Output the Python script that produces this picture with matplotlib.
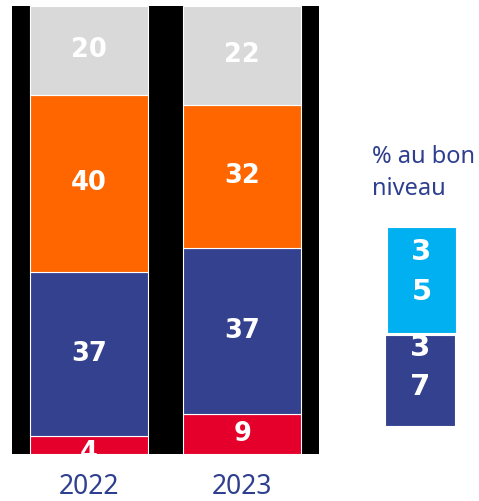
import matplotlib
matplotlib.use("Agg")
import matplotlib.pyplot as plt
from matplotlib.patches import Rectangle
import numpy as np

plt.rcParams['font.family'] = ['Noto Sans', 'DejaVu Sans']

years = ["2022", "2023"]
segment_names = ["rouge", "bleu", "orange", "gris"]
red_vals = [4, 9]
blue_vals = [37, 37]
orange_vals = [40, 32]
gray_vals = [20, 22]
side_labels = ["35", "37"]
side_title = "% au bon\nniveau"

colors = ["#E4002B", "#33418F", "#FF6600", "#D9D9D9"]
year_color = "#2F3F8F"
num_font = "DejaVu Sans"

W, H = 479, 501
fig = plt.figure(figsize=(W / 100, H / 100), dpi=100)

def fx(px):
    return px / W

def fy(py):
    return 1 - py / H

ax = fig.add_axes([fx(12), fy(454), fx(319) - fx(12), fy(6) - fy(454)])
ax.set_facecolor("black")

series = np.array([red_vals, blue_vals, orange_vals, gray_vals], dtype=float)
totals = series.sum(axis=0)
norm = series / totals * 100
x = np.arange(len(years))
bottoms = np.zeros(len(years))
for i in range(series.shape[0]):
    ax.bar(x, norm[i], width=0.766, bottom=bottoms, color=colors[i],
           edgecolor="white", linewidth=0.8, zorder=2)
    for j in range(len(years)):
        yc = bottoms[j] + norm[i][j] / 2
        if series[i][j] < 6:
            yc -= 1.7
        ax.text(x[j], yc, f"{int(series[i][j])}", ha="center", va="center",
                color="white", fontsize=18.5, fontweight="bold", zorder=3,
                family=num_font, clip_on=True)
    bottoms += norm[i]

ax.set_xlim(-0.5, 1.5)
ax.set_ylim(0, 100)
ax.set_xticks([])
ax.set_yticks([])
for s in ax.spines.values():
    s.set_visible(False)

for j, yr in enumerate(years):
    ax.annotate(yr, xy=(x[j], 0), xycoords="data",
                xytext=(0, -24), textcoords="offset points",
                ha="center", va="center", fontsize=19, color=year_color,
                annotation_clip=False)

# Side block
fig.text(fx(372), fy(173), side_title, ha="left", va="center",
         fontsize=17, color=year_color, linespacing=1.45)

side_boxes = [(387, 227, 69, 106, "#00B0F0"), (385, 335, 70, 91, "#33418F")]
side_digit_y = [(252, 292), (348, 387)]
for (bx, by, bw, bh, c), lab, ys in zip(side_boxes, side_labels, side_digit_y):
    fig.patches.append(Rectangle((fx(bx), fy(by + bh)), fx(bw), fy(by) - fy(by + bh),
                                 transform=fig.transFigure, facecolor=c,
                                 edgecolor="white", linewidth=0.8))
    for ch, ty in zip(lab, ys):
        fig.text(fx(bx + bw / 2), fy(ty), ch, ha="center", va="center",
                 fontsize=21, fontweight="bold", color="white", family=num_font)

fig.savefig("out.png", dpi=100)
